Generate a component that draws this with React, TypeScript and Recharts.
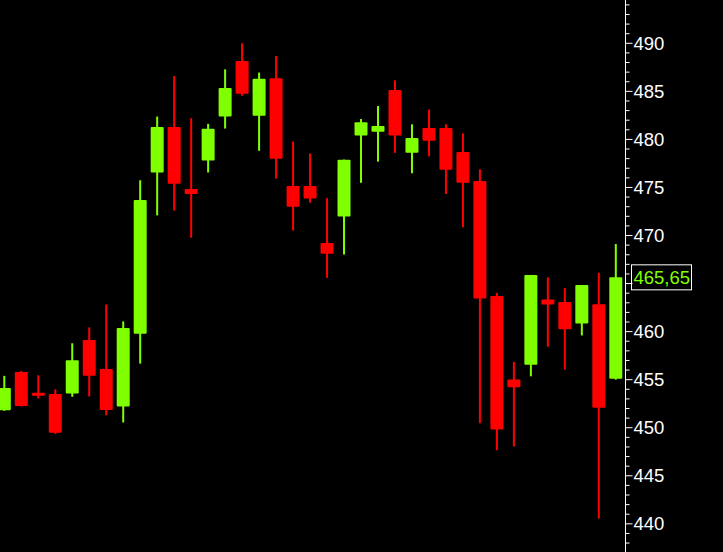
import React from 'react';
import { ComposedChart, Bar, XAxis, YAxis, ReferenceLine } from 'recharts';

// OHLC per candle
const opens = [
  451.83, 455.79, 453.63, 453.52, 453.55, 459.12, 456.12, 452.2, 459.78, 476.56,
  481.29, 474.84, 477.8, 482.38, 488.16, 482.45, 486.37, 475.16, 475.16, 469.23,
  471.98, 480.41, 480.8, 485.13, 478.6, 481.18, 481.18, 478.68, 475.68, 463.7,
  455.02, 456.56, 463.33, 463.08, 460.85, 462.86, 455.09,
];
const highs = [
  455.4, 455.9, 455.46, 453.99, 458.79, 460.44, 462.82, 461.06, 475.75, 482.38,
  486.59, 482.2, 481.62, 487.29, 490.0, 486.96, 488.68, 479.78, 478.54, 473.88,
  477.9, 482.12, 483.48, 486.15, 481.57, 483.11, 481.57, 480.63, 476.89, 464.03,
  456.85, 465.9, 465.64, 464.54, 464.84, 466.12, 469.12,
];
const lows = [
  451.76, 452.2, 453.04, 449.37, 453.22, 453.26, 451.29, 450.55, 456.67, 472.09,
  472.6, 469.78, 476.56, 481.13, 484.54, 478.82, 475.93, 470.52, 473.41, 465.6,
  468.02, 475.49, 477.69, 478.6, 476.48, 478.24, 474.32, 470.85, 450.47, 447.66,
  448.05, 455.35, 458.43, 456.04, 459.6, 440.55, 455.0,
];
const closes = [
  454.14, 452.27, 453.33, 449.49, 457.03, 455.42, 451.84, 460.37, 473.7, 481.29,
  475.38, 474.32, 481.1, 485.35, 484.76, 486.3, 477.99, 473.0, 473.85, 468.1,
  477.88, 481.79, 481.4, 480.41, 480.14, 479.86, 476.85, 475.49, 463.44, 449.81,
  454.21, 465.9, 462.82, 460.25, 464.84, 452.09, 465.65,
];
const lastPrice = 465.65;
const priceTicks = Array.from({ length: 57 }, (_, k) => 438 + k);

const UP = '#80ff00';
const DOWN = '#ff0000';
const FONT = "'Liberation Sans', Arial, sans-serif";

const data = opens.map((o, i) => ({
  i,
  open: o,
  high: highs[i],
  low: lows[i],
  close: closes[i],
}));

const Candle = (props: any) => {
  const { x, y, width, height, payload } = props;
  const { open, close, high, low } = payload;
  const top = Math.min(y, y + height);
  const h = Math.abs(height);
  const toY = (v: number) => top + ((high - v) / (high - low)) * h;
  const cx = x + width / 2;
  const color = close >= open ? UP : DOWN;
  const bTop = toY(Math.max(open, close));
  const bBot = toY(Math.min(open, close));
  return (
    <g>
      <rect x={cx - 1} y={top} width={2} height={h} fill={color} />
      <rect
        x={cx - 6.5}
        y={bTop}
        width={13}
        height={Math.max(bBot - bTop, 2)}
        rx={1}
        fill={color}
      />
    </g>
  );
};

const PriceTick = (props: any) => {
  const { x, y, payload } = props;
  const v = payload.value;
  const major = v % 5 === 0;
  // the last price box sits on top of the nearby label
  const hidden = Math.abs(v - lastPrice) < 2;
  return (
    <g>
      <line x1={x} x2={x + (major ? 7 : 4)} y1={y} y2={y} stroke="#fff" />
      {major && !hidden && (
        <text x={x + 8} y={y} dy={6.5} fill="#fff" fontSize={18.5} fontFamily={FONT}>
          {v}
        </text>
      )}
    </g>
  );
};

const LastLabel = (props: any) => {
  const { viewBox } = props;
  const bx = viewBox.x + viewBox.width + 6;
  const by = viewBox.y;
  return (
    <g>
      <rect x={bx} y={by - 12.5} width={60} height={25} fill="#000" stroke="#fff" />
      <text x={bx + 2} y={by} dy={6.5} fill={UP} fontSize={18.5} fontFamily={FONT}>
        {lastPrice.toFixed(2).replace('.', ',')}
      </text>
    </g>
  );
};

export default function App() {
  return (
    <div style={{ position: 'fixed', left: 0, top: 0, background: '#000' }}>
      <ComposedChart
        width={723}
        height={552}
        data={data}
        margin={{ top: 0, right: 0, bottom: 0, left: 0 }}
      >
        <XAxis dataKey="i" type="number" domain={[-0.2534, 36.572]} allowDataOverflow hide />
        <YAxis
          orientation="right"
          width={97.5}
          domain={[437.07, 494.506]}
          allowDataOverflow
          ticks={priceTicks}
          interval={0}
          tickSize={0}
          tickMargin={0}
          tickLine={false}
          axisLine={{ stroke: '#fff' }}
          tick={<PriceTick />}
        />
        <Bar
          dataKey={(d: any) => [d.low, d.high]}
          barSize={13}
          shape={<Candle />}
          isAnimationActive={false}
        />
        <ReferenceLine y={lastPrice} stroke="none" label={<LastLabel />} />
      </ComposedChart>
    </div>
  );
}
